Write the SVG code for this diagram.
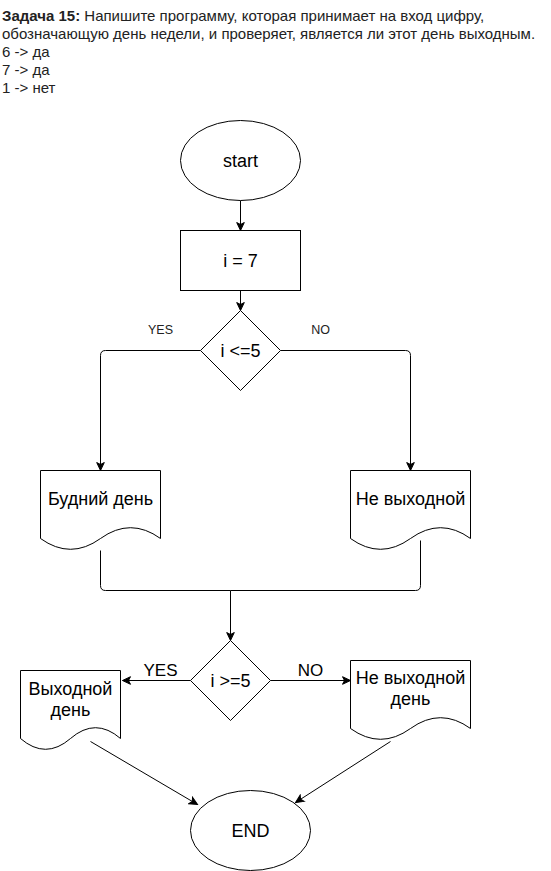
<svg xmlns="http://www.w3.org/2000/svg" width="551" height="871" viewBox="0 0 551 871">
  <defs>
    <marker id="arrow" viewBox="0 0 10 10" refX="9" refY="5" markerWidth="10" markerHeight="10" markerUnits="userSpaceOnUse" orient="auto">
      <path d="M1,1.2 L9,5 L1,8.8 L3,5 Z" fill="#000" stroke="#000" stroke-width="1"/>
    </marker>
  </defs>
  <style>
    .shape { fill: #fff; stroke: #000; stroke-width: 1; }
    .edge { fill: none; stroke: #000; stroke-width: 1; }
    .arr { marker-end: url(#arrow); }
    .label { font-family: "Liberation Sans", Arial, Helvetica, sans-serif; font-size: 18px; fill: #000; text-anchor: middle; }
    .small { font-family: "Liberation Sans", Arial, Helvetica, sans-serif; font-size: 12.5px; fill: #222; text-anchor: middle; }
    .branch { font-family: "Liberation Sans", Arial, Helvetica, sans-serif; font-size: 17px; fill: #000; text-anchor: middle; }
    .head { font-family: "Liberation Sans", Arial, Helvetica, sans-serif; font-size: 15px; fill: #222; }
  </style>

  <rect width="551" height="871" fill="#fff"/>

  <!-- task statement -->
  <g id="header">
    <text class="head" x="2" y="20.5"><tspan font-weight="bold">Задача 15:</tspan> Напишите программу, которая принимает на вход цифру,</text>
    <text class="head" x="2" y="38.5">обозначающую день недели, и проверяет, является ли этот день выходным.</text>
    <text class="head" x="2" y="56.5">6 -&gt; да</text>
    <text class="head" x="2" y="74.5">7 -&gt; да</text>
    <text class="head" x="2" y="92.5">1 -&gt; нет</text>
  </g>

  <g transform="translate(0.5,0.5)">
    <!-- connectors -->
    <g id="connectors">
      <path class="edge arr" d="M240,200 V230"/>
      <path class="edge arr" d="M240,290 V310"/>
      <path class="edge arr" d="M200,350 H105 Q100,350 100,355 V470"/>
      <path class="edge arr" d="M280,350 H405 Q410,350 410,355 V470"/>
      <path class="edge" d="M100,550 V585 Q100,590 105,590 H230"/>
      <path class="edge" d="M420,540 V585 Q420,590 415,590 H230"/>
      <path class="edge arr" d="M230,590 V640"/>
      <path class="edge arr" d="M190,680 H122"/>
      <path class="edge arr" d="M270,680 H350"/>
      <path class="edge arr" d="M90,741 L197,804"/>
      <path class="edge arr" d="M390,741 L295,802"/>
      <text class="small" x="160" y="333.5">YES</text>
      <text class="small" x="320" y="333.5">NO</text>
      <text class="branch" x="160" y="675.5">YES</text>
      <text class="branch" x="310" y="675.5">NO</text>
    </g>

    <g id="start">
      <ellipse class="shape" cx="240" cy="160" rx="60" ry="40"/>
      <text class="label" x="240" y="166">start</text>
    </g>

    <g id="assign">
      <rect class="shape" x="180" y="230" width="120" height="60"/>
      <text class="label" x="240" y="266.5">i = 7</text>
    </g>

    <g id="check1">
      <path class="shape" d="M240,310 L280,350 L240,390 L200,350 Z"/>
      <text class="label" x="240" y="356">i &lt;=5</text>
    </g>

    <g id="weekday">
      <path class="shape" d="M40,470 H160 V538 Q130,516.4 100,538 Q70,559.6 40,538 Z"/>
      <text class="label" x="100" y="504.5">Будний день</text>
    </g>

    <g id="not-weekend">
      <path class="shape" d="M350,470 H470 V538 Q440,516.4 410,538 Q380,559.6 350,538 Z"/>
      <text class="label" x="410" y="504.5">Не выходной</text>
    </g>

    <g id="check2">
      <path class="shape" d="M230,640 L270,680 L230,720 L190,680 Z"/>
      <text class="label" x="230" y="686">i &gt;=5</text>
    </g>

    <g id="weekend">
      <path class="shape" d="M20,670 H120 V738 Q95,716.4 70,738 Q45,759.6 20,738 Z"/>
      <text class="label" x="70" y="694"><tspan x="70">Выходной</tspan><tspan x="70" y="715.5">день</tspan></text>
    </g>

    <g id="not-weekend-day">
      <path class="shape" d="M350,660 H470 V728 Q440,706.4 410,728 Q380,749.6 350,728 Z"/>
      <text class="label" x="410" y="683.5"><tspan x="410">Не выходной</tspan><tspan x="410" y="704.5">день</tspan></text>
    </g>

    <g id="end">
      <ellipse class="shape" cx="250" cy="830" rx="60" ry="40"/>
      <text class="label" x="250" y="836">END</text>
    </g>
  </g>
</svg>
